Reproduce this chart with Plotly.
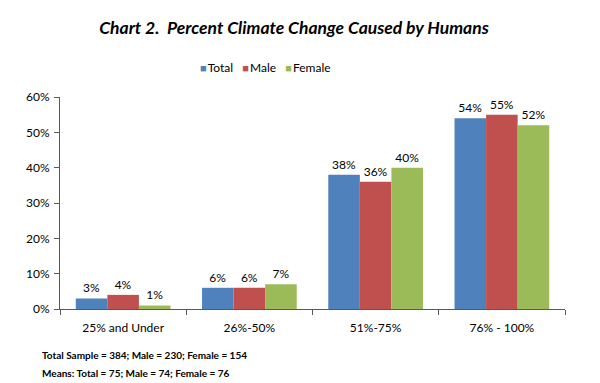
import plotly.graph_objects as go

categories = ["25% and Under", "26%-50%", "51%-75%", "76% - 100%"]
total = [0.03, 0.06, 0.38, 0.54]
male = [0.04, 0.06, 0.36, 0.55]
female = [0.01, 0.07, 0.40, 0.52]
series = [("Total", total, "#4F81BD"), ("Male", male, "#C0504D"), ("Female", female, "#9BBB59")]

FONT = "Lato"
OFF = 8  # page body margin offset
fig = go.Figure()
for name, vals, col in series:
    fig.add_trace(go.Bar(
        x=categories, y=vals, name=name, marker=dict(color=col, line=dict(width=0)),
        text=[f"{round(v*100)}%" for v in vals], textposition="outside",
        textfont=dict(size=12, color="#000", family=FONT), cliponaxis=False,
        showlegend=False,
    ))

legend_text = "&nbsp;&nbsp;&nbsp;".join(
    f"<span style='color:{col};font-size:11px'>■</span><span style='font-size:4px'>&nbsp;</span>{name}"
    for name, _, col in series)

L, R, T, B = 60, 565, 97, 309
fig.update_layout(
    width=600, height=383, barmode="group", bargap=0.25, bargroupgap=0,
    paper_bgcolor="white", plot_bgcolor="white",
    margin=dict(l=L - OFF, r=600 - (R - OFF), t=T - OFF, b=383 - (B - OFF), autoexpand=False),
    font=dict(family=FONT, size=12, color="#000"),
    title=dict(text="<b><i>Chart 2.  Percent Climate Change Caused by Humans</i></b>",
               x=(294 - OFF) / 600, xanchor="center", y=1 - (28 - OFF) / 383, yanchor="middle",
               font=dict(size=17.5, family=FONT, color="#000")),
)
fig.update_yaxes(range=[0, 0.6], dtick=0.1, tickformat=".0%", showgrid=False,
                 showline=True, linecolor="#595959", linewidth=1,
                 ticks="outside", ticklen=5, tickcolor="#595959", ticklabelstandoff=2,
                 tickfont=dict(size=12, family=FONT), zeroline=False)
fig.update_xaxes(showline=True, linecolor="#595959", linewidth=1,
                 ticks="outside", ticklen=5, tickcolor="#595959", tickson="boundaries",
                 ticklabelstandoff=8, tickfont=dict(size=12, family=FONT))
W, H = R - L, B - T
fig.add_annotation(text=legend_text, xref="paper", yref="paper",
                   x=(265 - L) / W, y=(B - 68) / H, xanchor="center", yanchor="middle",
                   showarrow=False, font=dict(size=12, family=FONT))
fig.add_annotation(text="<b>Total Sample = 384; Male = 230; Female = 154</b>",
                   xref="paper", yref="paper", x=(40 - L) / W, y=(B - 355) / H,
                   xanchor="left", yanchor="middle",
                   showarrow=False, font=dict(size=10, family=FONT))
fig.add_annotation(text="<b>Means: Total = 75; Male = 74; Female = 76</b>",
                   xref="paper", yref="paper", x=(40 - L) / W, y=(B - 373) / H,
                   xanchor="left", yanchor="middle",
                   showarrow=False, font=dict(size=10, family=FONT))
fig.write_html("out.html")
